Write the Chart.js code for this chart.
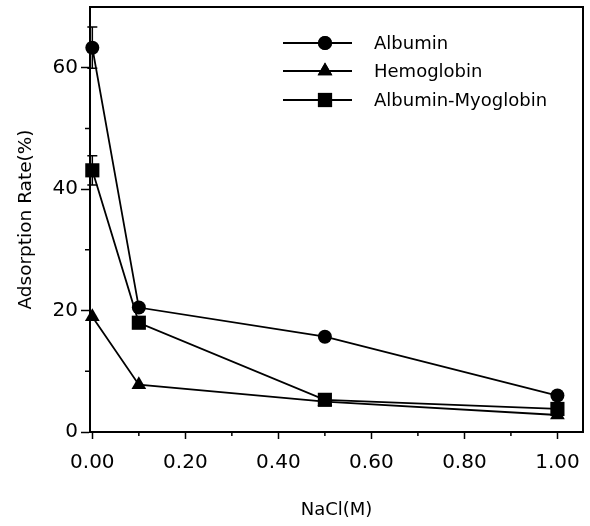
<!DOCTYPE html>
<html><head><meta charset="utf-8">
<script src="https://cdn.jsdelivr.net/npm/chart.js@4.4.1/dist/chart.umd.min.js"></script>
<style>html,body{margin:0;padding:0;background:#fff}#w{width:590px;height:526px}</style>
</head><body><div id="w"><canvas id="c" width="590" height="526"></canvas></div>
<script>
const nacl = [0, 0.1, 0.5, 1.0];
const albumin = [63.3, 20.5, 15.7, 6.0];
const hemoglobin = [19.0, 7.8, 5.0, 2.8];
const albMyoglobin = [43.1, 18.0, 5.3, 3.8];
const albuminErr = [3.4, 0, 0, 0];
const hemoglobinErr = [0, 0, 0, 0];
const albMyoglobinErr = [2.4, 0, 0, 0];
const xTicks = [0, 0.2, 0.4, 0.6, 0.8, 1.0];
const xMinor = [0.1, 0.3, 0.5, 0.7, 0.9];
const yTicks = [0, 20, 40, 60];
const yMinor = [10, 30, 50];
const seriesNames = ['Albumin', 'Hemoglobin', 'Albumin-Myoglobin'];

const FONT = "'DejaVu Sans', sans-serif";
const pts = arr => nacl.map((x, i) => ({x: x, y: arr[i]}));

const frame = {
  id: 'frame',
  afterDraw(chart) {
    const {ctx, chartArea: a, scales} = chart;
    ctx.save();
    ctx.strokeStyle = '#000';
    ctx.lineWidth = 2;
    ctx.strokeRect(a.left, a.top, a.right - a.left, a.bottom - a.top);
    ctx.lineWidth = 1.5;
    ctx.beginPath();
    yMinor.forEach(v => { const p = scales.y.getPixelForValue(v); ctx.moveTo(a.left, p); ctx.lineTo(a.left - 5, p); });
    xMinor.forEach(v => { const p = scales.x.getPixelForValue(v); ctx.moveTo(p, a.bottom); ctx.lineTo(p, a.bottom + 4); });
    ctx.stroke();
    // error bars
    chart.data.datasets.forEach(ds => {
      ctx.beginPath();
      ds.data.forEach((d, i) => {
        const e = ds.err[i];
        if (!e) return;
        const px = scales.x.getPixelForValue(d.x);
        const t = scales.y.getPixelForValue(d.y + e), b = scales.y.getPixelForValue(d.y - e);
        ctx.moveTo(px, t); ctx.lineTo(px, b);
        ctx.moveTo(px - 5, t); ctx.lineTo(px + 5, t);
        ctx.moveTo(px - 5, b); ctx.lineTo(px + 5, b);
      });
      ctx.stroke();
    });
    // legend
    const rowsY = [43, 71, 100];
    chart.data.datasets.forEach((ds, i) => {
      const y = rowsY[i];
      ctx.lineWidth = 1.8;
      ctx.beginPath(); ctx.moveTo(283, y); ctx.lineTo(352, y); ctx.stroke();
      Chart.helpers.drawPoint(ctx, {pointStyle: ds.pointStyle, radius: ds.pointRadius, rotation: 0}, 325, y);
      ctx.fillStyle = '#000';
      ctx.fill();
      ctx.font = '18px ' + FONT;
      ctx.textBaseline = 'middle';
      ctx.textAlign = 'left';
      ctx.fillText(ds.label, 374, y + 1);
    });
    ctx.restore();
  }
};

new Chart(document.getElementById('c'), {
  type: 'line',
  data: {
    datasets: [
      {label: seriesNames[0], data: pts(albumin), err: albuminErr, pointStyle: 'circle', pointRadius: 7},
      {label: seriesNames[1], data: pts(hemoglobin), err: hemoglobinErr, pointStyle: 'triangle', pointRadius: 8.5},
      {label: seriesNames[2], data: pts(albMyoglobin), err: albMyoglobinErr, pointStyle: 'rect', pointRadius: 10}
    ].map(d => Object.assign(d, {borderColor: '#000', backgroundColor: '#000', pointBackgroundColor: '#000', pointBorderColor: '#000', borderWidth: 1.8, pointBorderWidth: 0, tension: 0, clip: false}))
  },
  options: {
    responsive: false,
    animation: false,
    events: [],
    layout: {autoPadding: false, padding: {left: 0, top: 7, right: 7, bottom: 0}},
    plugins: {legend: {display: false}, tooltip: {enabled: false}},
    scales: {
      x: {
        type: 'linear', min: -0.005, max: 1.055,
        afterBuildTicks: s => { s.ticks = xTicks.map(v => ({value: v})); },
        afterFit: s => { s.height = 94; s.paddingLeft = 0; s.paddingRight = 0; },
        grid: {drawOnChartArea: false, drawTicks: true, tickLength: 7, tickWidth: 1.5, tickColor: '#000'},
        border: {display: true, color: '#000', width: 2},
        ticks: {color: '#000', font: {family: FONT, size: 20}, padding: 12, maxRotation: 0, callback: v => Number(v).toFixed(2)},
        title: {display: true, text: 'NaCl(M)', color: '#000', font: {family: FONT, size: 18}, padding: {top: 10, bottom: 5}}
      },
      y: {
        type: 'linear', min: 0, max: 70,
        afterBuildTicks: s => { s.ticks = yTicks.map(v => ({value: v})); },
        afterFit: s => { s.width = 90; s.paddingTop = 0; s.paddingBottom = 0; },
        grid: {drawOnChartArea: false, drawTicks: true, tickLength: 9, tickWidth: 1.5, tickColor: '#000'},
        border: {display: true, color: '#000', width: 2},
        ticks: {color: '#000', font: {family: FONT, size: 20}, padding: 3, callback: v => String(v)},
        title: {display: true, text: 'Adsorption Rate(%)', color: '#000', font: {family: FONT, size: 18.5}, padding: {top: 15, bottom: 0}}
      }
    }
  },
  plugins: [frame]
});
</script></body></html>
